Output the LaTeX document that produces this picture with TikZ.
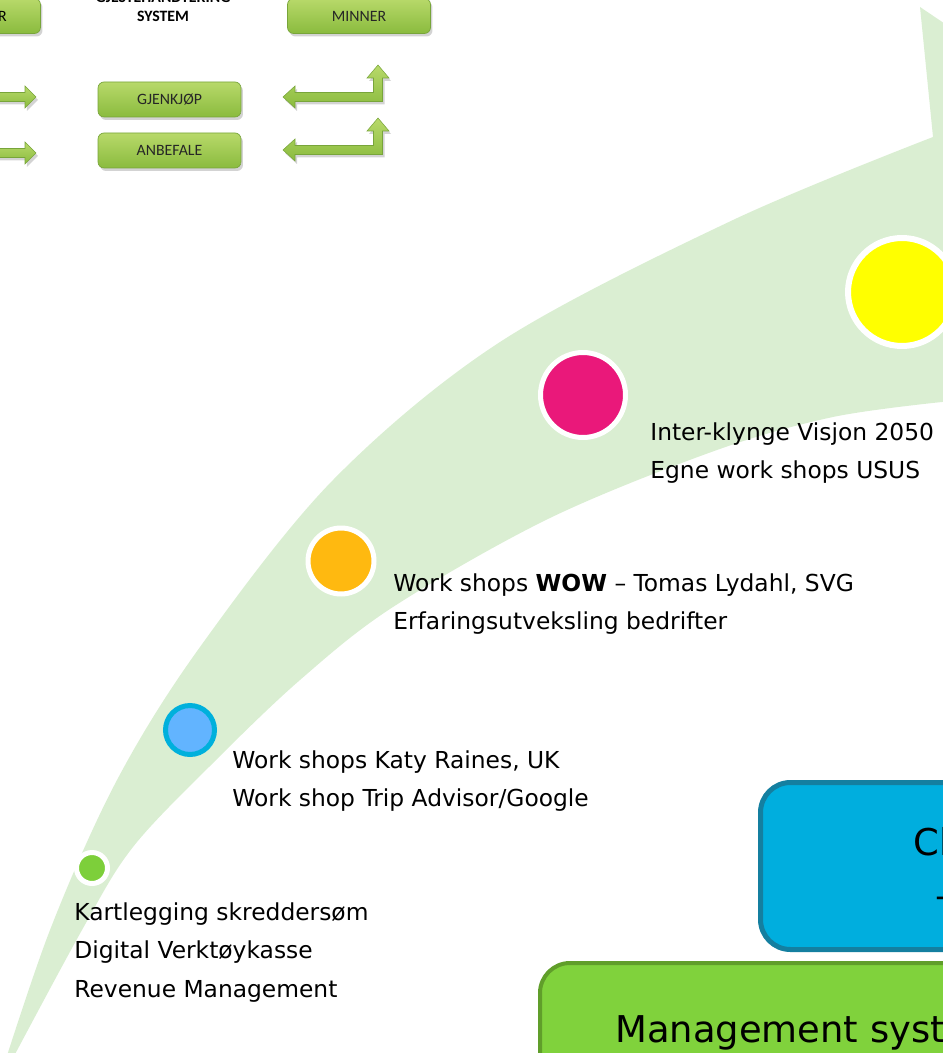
\documentclass[tikz,border=0pt]{standalone}
\usepackage{fontspec}
\setmainfont{DejaVu Sans}
\newfontfamily\boxfont{Carlito}
\usepackage{tikz}
\usetikzlibrary{shadows}
\definecolor{bandgreen}{RGB}{218,238,210}
\definecolor{dotgreen}{RGB}{125,207,58}
\definecolor{dotblue}{RGB}{98,180,255}
\definecolor{ringblue}{RGB}{0,176,220}
\definecolor{dotorange}{RGB}{255,185,16}
\definecolor{dotpink}{RGB}{234,24,122}
\definecolor{dotyellow}{RGB}{255,255,0}
\definecolor{clusterfill}{RGB}{0,174,222}
\definecolor{clusterline}{RGB}{20,127,160}
\definecolor{mgmtfill}{RGB}{128,210,60}
\definecolor{mgmtline}{RGB}{96,158,42}
\definecolor{btntop}{RGB}{184,217,106}
\definecolor{btnbottom}{RGB}{138,187,62}
\definecolor{btnline}{RGB}{120,165,58}
\tikzset{>=latex,
  dot/.style={circle,inner sep=0pt,draw=white,line width=0.1cm},
  btnshade/.style={top color=btntop,bottom color=btnbottom,draw=btnline,line width=0.4pt,
    drop shadow={opacity=0.35,shadow xshift=0.04cm,shadow yshift=-0.06cm}},
  btnbox/.style={btnshade,rounded corners=0.12cm,minimum width=2.86cm,minimum height=0.7cm,
    inner sep=0pt,font=\boxfont\fontsize{9}{11}\selectfont,text=black!85},
  btnlabel/.style={inner sep=0pt,font=\boxfont\bfseries\fontsize{9}{10.8}\selectfont},
  steptext/.style={anchor=north west,align=left,inner sep=0pt,font=\fontsize{13.3}{22.1}\selectfont},
  bigtext/.style={anchor=base west,inner sep=0pt,font=\fontsize{21}{25}\selectfont},
  clusterbox/.style={rounded corners=0.6cm,fill=clusterfill,draw=clusterline,line width=0.1cm},
  mgmtbox/.style={rounded corners=0.6cm,fill=mgmtfill,draw=mgmtline,line width=0.08cm}
}

\begin{document}
\begin{tikzpicture}[x=0.02cm,y=-0.02cm]
    \useasboundingbox (0,0) rectangle (942,1053);

    % the curved band
    \fill [bandgreen] plot [smooth,tension=0.55] coordinates {(-4,1090) (50,930) (117,780)
      (200,647) (333,480) (500,342) (733,220) (933,137)}
      -- (920,7) -- (1000,61) -- (1000,398) -- (960,399)
      -- plot [smooth,tension=0.55] coordinates {(942,402) (833,417) (717,450) (550,518)
      (393,607) (300,680) (213,763) (133,847) (82,930) (-4,1090)} -- cycle;

    % top buttons
    \node [btnbox] (firstbox) at (-31,16) {};
    \node [btnlabel,font=\boxfont\fontsize{9}{11}\selectfont,anchor=base east] (firsttext) at (7,22) {R};
    \node [btnlabel,align=center,anchor=south] (gjest) at (163,22) {GJESTEHÅNDTERING\\SYSTEM};
    \node [btnbox] (minner) at (359,16) {MINNER};
    \node [btnbox] (gjenkjop) at (169.5,99.5) {GJENKJØP};
    \node [btnbox] (anbefale) at (169.5,150.5) {ANBEFALE};

    \foreach \dy in {0,56} {
      \path [btnshade,line width=0.3pt] (-20,92.5+\dy) -- (25,92.5+\dy) -- (25,86+\dy)
        -- (36,97+\dy) -- (25,108+\dy) -- (25,101.5+\dy) -- (-20,101.5+\dy) -- cycle;
    }
    \foreach \dy in {0,53} {
      \path [btnshade,line width=0.3pt] (283,97+\dy) -- (295,86+\dy) -- (295,92.5+\dy)
        -- (373.5,92.5+\dy) -- (373.5,78+\dy) -- (367,78+\dy) -- (378,65+\dy)
        -- (389,78+\dy) -- (382.5,78+\dy) -- (382.5,101.5+\dy) -- (295,101.5+\dy)
        -- (295,108+\dy) -- cycle;
    }

    % steps along the band
    \node [dot,fill=dotgreen,minimum size=0.62cm] (kartdot) at (92,868) {};
    \node [dot,fill=dotblue,draw=ringblue,minimum size=0.98cm] (katydot) at (190,730) {};
    \node [dot,fill=dotorange,minimum size=1.32cm] (wowdot) at (341,561) {};
    \node [dot,fill=dotpink,minimum size=1.70cm] (visjondot) at (583,395) {};
    \node [dot,fill=dotyellow,minimum size=2.16cm,line width=0.12cm] (topdot) at (902,292) {};

    \node [steptext] (kart) at (74,902)
      {Kartlegging skreddersøm\\Digital Verktøykasse\\Revenue Management};
    \node [steptext] (katy) at (232,750)
      {Work shops Katy Raines, UK\\Work shop Trip Advisor/Google};
    \node [steptext] (wow) at (393,573)
      {Work shops \textbf{WOW} – Tomas Lydahl, SVG\\Erfaringsutveksling bedrifter};
    \node [steptext] (visjon) at (650,422)
      {Inter-klynge Visjon 2050\\Egne work shops USUS};

    % boxes at the bottom right
    \draw [clusterbox] (760.5,782.5) rectangle (1020,949.5);
    \node [bigtext] (cltext) at (913,855) {Cl};
    \node [bigtext] (clsub) at (935,908) {–};
    \draw [mgmtbox] (540,963) rectangle (1020,1120);
    \node [bigtext] (mgmttext) at (615,1042) {Management syst};
\end{tikzpicture}
\end{document}
